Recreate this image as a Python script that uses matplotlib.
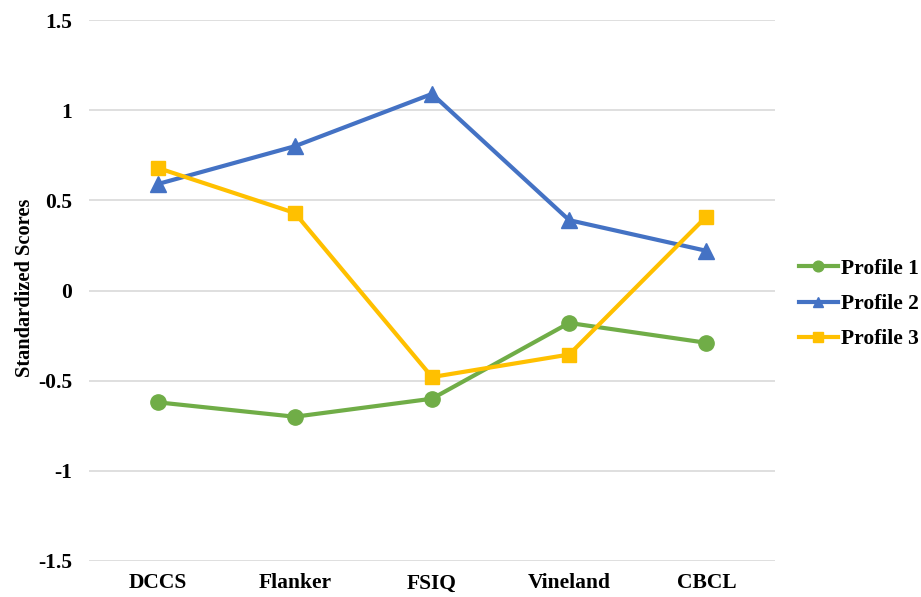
import matplotlib
matplotlib.use("Agg")
import matplotlib.pyplot as plt

categories = ["DCCS", "Flanker", "FSIQ", "Vineland", "CBCL"]
profile1 = [-0.62, -0.70, -0.60, -0.18, -0.29]
profile2 = [0.59, 0.80, 1.09, 0.39, 0.22]
profile3 = [0.68, 0.43, -0.48, -0.355, 0.41]
yticks = [-1.5, -1, -0.5, 0, 0.5, 1, 1.5]
ytick_labels = ["-1.5", "-1", "-0.5", "0", "0.5", "1", "1.5"]

plt.rcParams['font.family'] = ['Liberation Serif', 'DejaVu Serif']
plt.rcParams['font.weight'] = 'bold'

W, H = 921, 597
fig = plt.figure(figsize=(W/100, H/100), dpi=100)
ax = fig.add_axes([89/W, 1-561/H, (775-89)/W, (561-20)/H])

x = list(range(len(categories)))
ax.plot(x, profile1, color="#70AD47", lw=3, marker="o", ms=11, label="Profile 1")
ax.plot(x, profile2, color="#4472C4", lw=3, marker="^", ms=11, label="Profile 2")
ax.plot(x, profile3, color="#FFC000", lw=3, marker="s", ms=9.5, label="Profile 3")

ax.set_xlim(-0.5, len(categories)-0.5)
ax.set_ylim(-1.5, 1.5)
ax.set_yticks(yticks)
ax.set_yticklabels(ytick_labels, fontsize=15.5, fontweight='bold')
ax.set_xticks(x)
ax.set_xticklabels(categories, fontsize=15.5, fontweight='bold')
ax.yaxis.grid(True, color="#D9D9D9", lw=1.2)
ax.set_axisbelow(True)
for s in ax.spines.values():
    s.set_visible(False)
ax.tick_params(axis='both', length=0)
ax.tick_params(axis='y', pad=12)
ax.tick_params(axis='x', pad=9)
ax.set_ylabel("Standardized Scores", fontsize=14.7, fontweight='bold')
ax.yaxis.set_label_coords(35/W, 1-288/H, transform=fig.transFigure)

leg = ax.legend(loc="center left", bbox_to_anchor=(799/W, 1-304/H), bbox_transform=fig.transFigure,
                frameon=False, handlelength=1.8, labelspacing=0.7, handletextpad=0.15,
                borderpad=0, borderaxespad=0, markerscale=0.7,
                prop={'weight': 'bold', 'size': 15.5})

fig.savefig("out.png", dpi=100)
